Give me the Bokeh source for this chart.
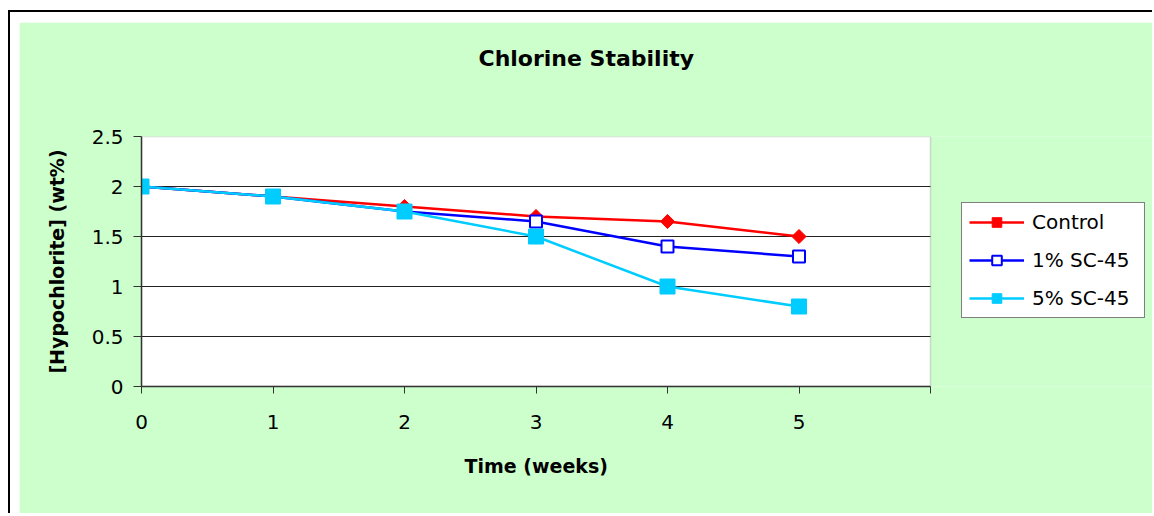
import numpy as np
from bokeh.plotting import figure
from bokeh.models import (Legend, LegendItem, Title, FixedTicker, Range1d,
                          BoxAnnotation, Grid)
from bokeh.layouts import column
from bokeh.embed import file_html
from bokeh.resources import INLINE

# ---- data ----
weeks = [0, 1, 2, 3, 4, 5]
control = [2.0, 1.9, 1.8, 1.7, 1.65, 1.5]
sc45_1 = [2.0, 1.9, 1.75, 1.65, 1.4, 1.3]
sc45_5 = [2.0, 1.9, 1.75, 1.5, 1.0, 0.8]
series_names = ["Control", "1% SC-45", "5% SC-45"]
x_ticks = [0, 1, 2, 3, 4, 5, 6]
x_tick_labels = ["0", "1", "2", "3", "4", "5", ""]
y_ticks = [0, 0.5, 1, 1.5, 2, 2.5]
y_tick_labels = ["0", "0.5", "1", "1.5", "2", "2.5"]
title_text = "Chlorine Stability"
x_title = "Time (weeks)"
y_title = "[Hypochlorite] (wt%)"

FONT = "DejaVu Sans"
GREEN = "#CCFFCC"

# layout (pixels)
FIG_W, FIG_H = 1133, 491
BORDER_L, BORDER_T, BORDER_B = 122, 114, 127
PLOT_W = 789                      # width of the white plotting area
FRAME_W = FIG_W - BORDER_L        # frame also holds the legend area
X_MIN, X_MAX = x_ticks[0], x_ticks[-1]
Y_MIN, Y_MAX = y_ticks[0], y_ticks[-1]
x_end = X_MIN + (X_MAX - X_MIN) * FRAME_W / PLOT_W

p = figure(width=FIG_W, height=FIG_H,
           x_range=Range1d(X_MIN, x_end), y_range=Range1d(Y_MIN, Y_MAX),
           output_backend="svg", toolbar_location=None,
           min_border_left=BORDER_L, min_border_right=0,
           min_border_top=BORDER_T, min_border_bottom=BORDER_B,
           background_fill_color=GREEN, border_fill_color=GREEN)
p.title = None
p.outline_line_color = None

# white plotting area with grey border
p.add_layout(BoxAnnotation(left=X_MIN, right=X_MAX, bottom=Y_MIN, top=Y_MAX,
                           fill_color="white", fill_alpha=1,
                           line_color="#808080", line_width=1.5,
                           level="image"))

# blank spacer next to the plot, then the title above it
p.add_layout(Title(text=" ", text_font=FONT, text_font_size="10px",
                   standoff=34, text_color=GREEN), "above")
p.add_layout(Title(text=title_text, align="left", offset=337, standoff=38,
                   text_font=FONT, text_font_size="22px",
                   text_font_style="bold", text_color="black"), "above")

# axes
p.xaxis.ticker = FixedTicker(ticks=x_ticks)
p.xaxis.major_label_overrides = {t: l for t, l in zip(x_ticks, x_tick_labels)}
p.xaxis.bounds = (X_MIN, X_MAX)
p.yaxis.ticker = FixedTicker(ticks=y_ticks)
p.yaxis.major_label_overrides = {t: l for t, l in zip(y_ticks, y_tick_labels)}
for ax in (p.xaxis, p.yaxis):
    ax.axis_line_color = "#333333"
    ax.axis_line_width = 1.5
    ax.major_tick_line_color = "#333333"
    ax.major_tick_line_width = 1
    ax.major_tick_in = 0
    ax.minor_tick_line_color = None
    ax.major_label_text_font = FONT
    ax.major_label_text_font_size = "20px"
    ax.major_label_text_color = "black"
    ax.axis_label_text_font = FONT
    ax.axis_label_text_font_style = "bold"
    ax.axis_label_text_font_size = "19px"
    ax.axis_label_text_color = "black"
p.xaxis.major_tick_out = 7
p.yaxis.major_tick_out = 8
p.xaxis.major_label_standoff = 21
p.yaxis.major_label_standoff = 10
p.yaxis.axis_label = y_title
p.yaxis.axis_label_standoff = 21

# x-axis title, centred under the plotting area (not the whole frame)
p.add_layout(Title(text=x_title, align="left", offset=323, standoff=42,
                   text_font=FONT, text_font_size="19px",
                   text_font_style="bold", text_color="black"), "below")

# horizontal grid only inside the plotting area
grid_ticks = y_ticks[1:-1]
p.xgrid.grid_line_color = None
if "cross_bounds" in Grid.properties():
    p.ygrid.ticker = FixedTicker(ticks=grid_ticks)
    p.ygrid.cross_bounds = (X_MIN, X_MAX)
    p.ygrid.grid_line_color = "#222222"
    p.ygrid.grid_line_width = 1
else:
    p.ygrid.grid_line_color = None
    p.segment(x0=[X_MIN] * len(grid_ticks), x1=[X_MAX] * len(grid_ticks),
              y0=grid_ticks, y1=grid_ticks, line_color="#222222",
              line_width=1, level="underlay")

# series
l1 = p.line(weeks, control, line_color="#FF0000", line_width=2.5)
m1 = p.scatter(weeks, control, marker="square", angle=np.pi / 4, size=10,
               fill_color="#FF0000", line_color="#FF0000")
l2 = p.line(weeks, sc45_1, line_color="#0000FF", line_width=2.5)
m2 = p.scatter(weeks, sc45_1, marker="square", size=12,
               fill_color="white", line_color="#0000FF", line_width=2)
l3 = p.line(weeks, sc45_5, line_color="#00CCFF", line_width=2.5)
m3 = p.scatter(weeks, sc45_5, marker="square", size=15,
               fill_color="#00CCFF", line_color="#00CCFF")

legend = Legend(items=[
    LegendItem(label=series_names[0], renderers=[l1, m1]),
    LegendItem(label=series_names[1], renderers=[l2, m2]),
    LegendItem(label=series_names[2], renderers=[l3, m3]),
], location=(PLOT_W + 31, 68))
legend.border_line_color = "black"
legend.border_line_width = 1
legend.background_fill_color = "white"
legend.background_fill_alpha = 1
legend.label_text_font = FONT
legend.label_text_font_size = "20px"
legend.label_text_color = "black"
legend.glyph_width = 55
legend.glyph_height = 24
legend.label_height = 24
legend.label_width = 105
legend.label_standoff = 8
legend.padding = 7
legend.spacing = 14
legend.margin = 0
p.add_layout(legend)

layout = column(p, styles={"border-left": "2px solid black",
                           "border-top": "2px solid black",
                           "padding-left": "9px", "padding-top": "10px",
                           "margin-left": "8px", "margin-top": "10px",
                           "background-color": "white"})

open("out.html", "w").write(file_html(layout, INLINE))
